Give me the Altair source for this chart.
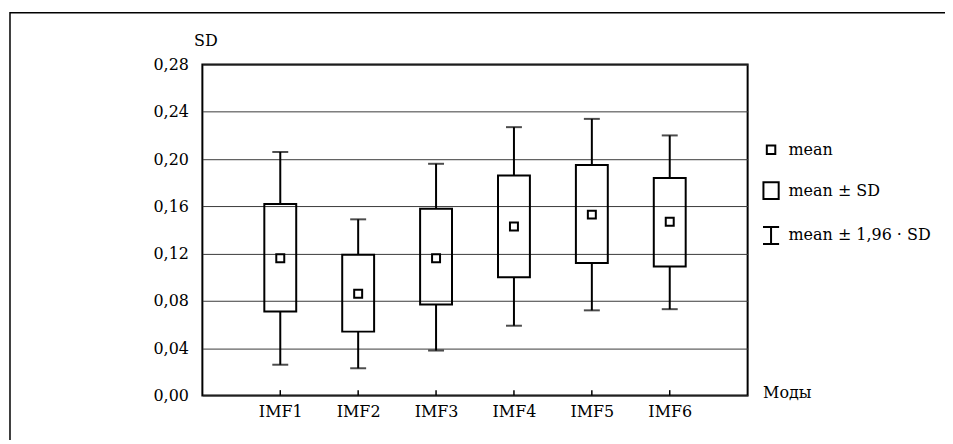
import altair as alt
import pandas as pd

categories = ["IMF1", "IMF2", "IMF3", "IMF4", "IMF5", "IMF6"]
means = [0.116, 0.086, 0.116, 0.143, 0.153, 0.147]
box_low = [0.071, 0.054, 0.077, 0.100, 0.112, 0.109]
box_high = [0.162, 0.119, 0.158, 0.186, 0.195, 0.184]
whisk_low = [0.026, 0.023, 0.038, 0.059, 0.072, 0.073]
whisk_high = [0.206, 0.149, 0.196, 0.227, 0.234, 0.220]
y_ticks = [0.00, 0.04, 0.08, 0.12, 0.16, 0.20, 0.24, 0.28]
legend_labels = ["mean", "mean \u00b1 SD", "mean \u00b1 1,96 \u00b7 SD"]
legend_paths = [
    "M-0.5,-0.5H0.5V0.5H-0.5Z",
    "M-0.9,-1H0.9V1H-0.9Z",
    "M-0.95,-1H0.95M0,-1V1M-0.95,1H0.95",
]

df = pd.DataFrame({
    "cat": categories, "mean": means, "blo": box_low, "bhi": box_high,
    "wlo": whisk_low, "whi": whisk_high,
})
leg_df = pd.DataFrame({"item": legend_labels})

FONT = "DejaVu Serif"
FS = 16
W, H = 547, 332

xscale = alt.Scale(type="point", padding=1, domain=categories)
yscale = alt.Scale(domain=[0, 0.28], nice=False, zero=True)

x_enc = alt.X("cat:N", scale=xscale, sort=categories, axis=alt.Axis(
    title="Моды", ticks=False, domain=False, grid=False, labelAngle=0,
    labelPadding=8, labelFont=FONT, labelFontSize=FS, labelColor="black",
    titleFont=FONT, titleFontSize=FS, titleFontWeight="normal", titleColor="black",
    titleX=562, titleY=-3, titleAlign="left", titleBaseline="middle"))
y_axis = alt.Axis(
    title="SD", values=y_ticks, ticks=False, domain=False, grid=True,
    gridColor="#3a3a3a", gridWidth=1, gridOpacity=1,
    labelExpr="replace(format(datum.value, '.2f'), '.', ',')",
    labelPadding=14, labelFont=FONT, labelFontSize=FS, labelColor="black",
    titleFont=FONT, titleFontSize=FS, titleFontWeight="normal", titleColor="black",
    titleAngle=0, titleX=3, titleY=-24, titleAlign="center", titleBaseline="middle")

base = alt.Chart(df)

boxes = base.mark_bar(fill="transparent", stroke="black", strokeWidth=2, size=32).encode(
    x=x_enc,
    y=alt.Y("blo:Q", scale=yscale, axis=y_axis),
    y2="bhi:Q",
)
w_low = base.mark_rule(color="black", strokeWidth=2).encode(x=x_enc, y=alt.Y("wlo:Q", scale=yscale), y2="blo:Q")
w_high = base.mark_rule(color="black", strokeWidth=2).encode(x=x_enc, y=alt.Y("bhi:Q", scale=yscale), y2="whi:Q")
cap_low = base.mark_tick(color="black", orient="horizontal", size=16, thickness=2).encode(x=x_enc, y=alt.Y("wlo:Q", scale=yscale))
cap_high = base.mark_tick(color="black", orient="horizontal", size=16, thickness=2).encode(x=x_enc, y=alt.Y("whi:Q", scale=yscale))
mean_pts = base.mark_square(filled=False, color="black", strokeWidth=2, size=64, opacity=1).encode(
    x=x_enc, y=alt.Y("mean:Q", scale=yscale))
xticks = base.mark_rule(color="black", strokeWidth=1.5).encode(
    x=x_enc, y=alt.datum(0), y2=alt.datum(0.0045))

legend_layer = alt.Chart(leg_df).mark_point(filled=False, color="black").encode(
    shape=alt.Shape("item:N", scale=alt.Scale(domain=legend_labels, range=legend_paths),
                    legend=alt.Legend(title=None, orient="none", legendX=561, legendY=76,
                                      padding=0, symbolSize=289, symbolStrokeWidth=2,
                                      symbolStrokeColor="black", symbolFillColor="transparent",
                                      symbolOpacity=1, labelFont=FONT, labelFontSize=FS,
                                      labelColor="black", labelOffset=8, rowPadding=20,
                                      labelLimit=300))
).transform_filter("false")

frame = alt.Chart(alt.Data(values=[{"a": 1}])).mark_rect(
    fill="transparent", stroke="black", strokeWidth=1.5).encode(
    x=alt.value(-193), x2=alt.value(1200), y=alt.value(-52), y2=alt.value(700))

chart = alt.layer(frame, boxes, w_low, w_high, cap_low, cap_high, mean_pts, xticks, legend_layer).properties(
    width=W, height=H,
    autosize=alt.AutoSizeParams(type="none"),
    padding={"left": 195, "top": 56, "right": 198, "bottom": 44},
    background="white",
).configure_view(stroke="black", strokeWidth=2)

chart.save("out.html", embed_options={"renderer": "svg", "actions": False})
